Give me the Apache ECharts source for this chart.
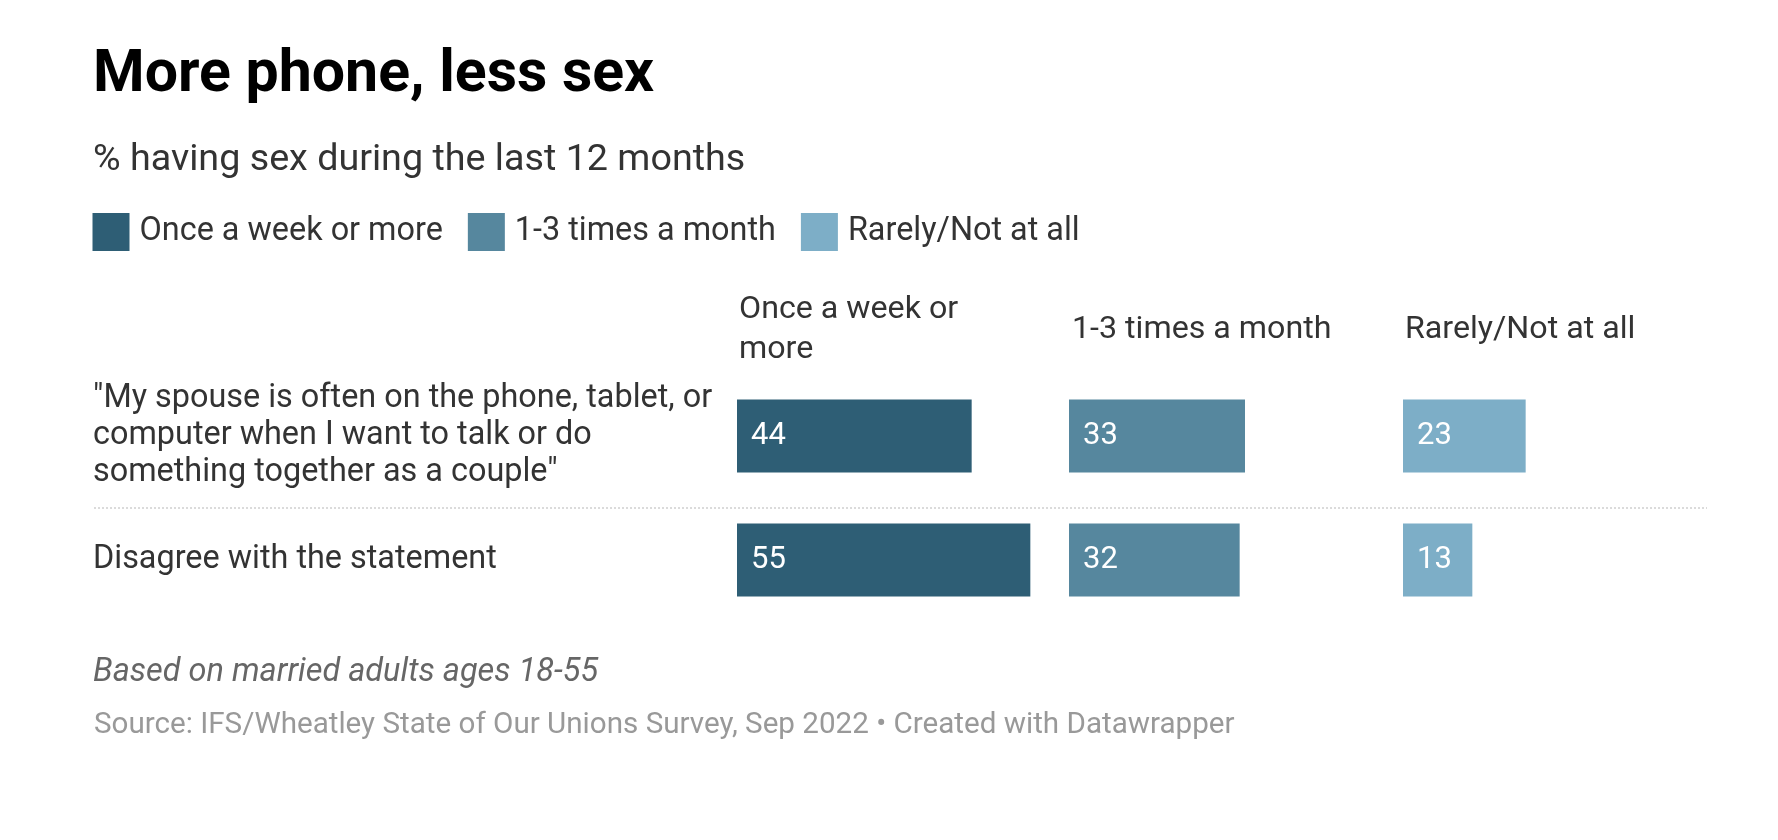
<!DOCTYPE html>
<html>
<head>
<meta charset="utf-8">
<script src="https://cdn.jsdelivr.net/npm/echarts@6/dist/echarts.min.js"></script>
<style>
html,body{margin:0;padding:0;background:#fff;}
#chart{width:1778px;height:840px;}
</style>
</head>
<body>
<div id="chart"></div>
<script>
const categories = [
  '"My spouse is often on the phone, tablet, or computer when I want to talk or do something together as a couple"',
  'Disagree with the statement'
];
const seriesNames = ['Once a week or more', '1-3 times a month', 'Rarely/Not at all'];
const onceAWeek = [44, 55];
const oneToThree = [33, 32];
const rarely = [23, 13];
const colors = ['#2e5e75', '#56879e', '#7daec7'];

const FONT = 'Roboto';
const chart = echarts.init(document.getElementById('chart'), null, {renderer: 'canvas'});

const gridLefts = [737, 1069, 1403];
const values = [onceAWeek, oneToThree, rarely];

const grids = gridLefts.map(l => ({
  left: l, top: 374, width: 320, height: 248,
  containLabel: false, outerBoundsMode: 'none'
}));
const xAxes = gridLefts.map((l, i) => ({
  type: 'value', gridIndex: i, min: 0, max: 60,
  axisLine: {show: false}, axisTick: {show: false},
  axisLabel: {show: false}, splitLine: {show: false}
}));
const yAxes = gridLefts.map((l, i) => ({
  type: 'category', gridIndex: i, data: categories, inverse: true,
  axisLine: {show: false}, axisTick: {show: false},
  axisLabel: i === 0 ? {
    show: true, align: 'left', margin: 644, width: 640, overflow: 'break',
    fontFamily: FONT, fontSize: 32.4, lineHeight: 37, color: '#333'
  } : {show: false}
}));
const series = values.map((v, i) => ({
  name: seriesNames[i], type: 'bar', xAxisIndex: i, yAxisIndex: i,
  data: v, barWidth: 73, itemStyle: {color: colors[i]},
  label: {
    show: true, position: 'insideLeft', distance: 14,
    color: '#fff', fontFamily: FONT, fontSize: 31
  },
  silent: true
}));

const headerStyle = {fontFamily: FONT, fontSize: 32.2, fontWeight: 'normal', color: '#333', lineHeight: 40};

chart.setOption({
  animation: false,
  backgroundColor: '#fff',
  title: [
    {text: 'More phone, less sex', left: 88, top: 42,
     textStyle: {fontFamily: FONT, fontSize: 59, fontWeight: 'bold', color: '#000', lineHeight: 59}},
    {text: '% having sex during the last 12 months', left: 88, top: 137,
     textStyle: {fontFamily: FONT, fontSize: 37.7, fontWeight: 'normal', color: '#333', lineHeight: 37}},
    {text: 'Once a week or\nmore', left: 734, top: 285, textStyle: headerStyle},
    {text: '1-3 times a month', left: 1067, top: 305, textStyle: headerStyle},
    {text: 'Rarely/Not at all', left: 1400, top: 305, textStyle: headerStyle},
    {text: 'Based on married adults ages 18-55', left: 88, top: 652,
     textStyle: {fontFamily: FONT, fontSize: 32.5, fontStyle: 'italic', fontWeight: 'normal', color: '#666', lineHeight: 32}},
    {text: 'Source: IFS/Wheatley State of Our Unions Survey, Sep 2022 \u2022 Created with Datawrapper', left: 89, top: 706,
     textStyle: {fontFamily: FONT, fontSize: 29.6, fontWeight: 'normal', color: '#999', lineHeight: 30}}
  ],
  legend: {
    data: seriesNames, left: 87.5, top: 208, orient: 'horizontal',
    icon: 'rect', itemWidth: 37, itemHeight: 38, itemGap: 25,
    selectedMode: false,
    textStyle: {fontFamily: FONT, fontSize: 32.4, color: '#333', padding: [0, 0, 0, 5]}
  },
  grid: grids,
  xAxis: xAxes,
  yAxis: yAxes,
  series: series,
  graphic: [
    {type: 'line', shape: {x1: 94, y1: 508, x2: 1707, y2: 508},
     style: {stroke: '#cfcfcf', lineWidth: 1.5, lineDash: [2, 2]}, silent: true}
  ]
});
</script>
</body>
</html>
